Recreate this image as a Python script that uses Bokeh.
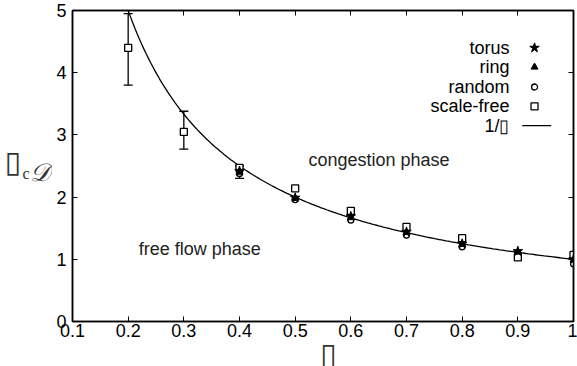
import numpy as np
from bokeh.plotting import figure
from bokeh.layouts import row, column
from bokeh.models import (LinearAxis, FixedTicker, CustomJSTickFormatter, Range1d,
                          Label, ColumnDataSource, Whisker, TeeHead)
from bokeh.embed import file_html
from bokeh.resources import INLINE

# ---- data ----
x_net = [0.4, 0.5, 0.6, 0.7, 0.8, 0.9, 1.0]
torus = [2.42, 1.99, 1.69, 1.44, 1.25, 1.13, 1.00]
ring = [2.40, 1.98, 1.67, 1.43, 1.24, 1.12, 0.99]
random_net = [2.38, 1.96, 1.63, 1.39, 1.20, 1.10, 0.93]
x_sf = [0.2, 0.3, 0.4, 0.5, 0.6, 0.7, 0.8, 0.9, 1.0]
scale_free = [4.40, 3.05, 2.47, 2.14, 1.78, 1.52, 1.34, 1.03, 1.07]
err_x = [0.2, 0.3, 0.4]
err_lo = [3.80, 2.77, 2.30]
err_hi = [4.95, 3.38, 2.50]
x_ticks = [0.1, 0.2, 0.3, 0.4, 0.5, 0.6, 0.7, 0.8, 0.9, 1.0]
y_ticks = [0, 1, 2, 3, 4, 5]
legend_names = ["torus", "ring", "random", "scale-free", "1/\u25af"]
x_title = "\u25af"
y_title_parts = ["\u25af", "c", "\U0001D49F"]

FONT = "Liberation Sans"
FS = "18px"
LEFT_W = 52
MAIN_H = 343


def blank_fig(w, h):
    f = figure(width=w, height=h, output_backend="svg", toolbar_location=None,
               x_range=Range1d(0, w), y_range=Range1d(0, h),
               min_border=0, min_border_left=0, min_border_right=0,
               min_border_top=0, min_border_bottom=0)
    f.axis.visible = False
    f.grid.visible = False
    f.outline_line_color = None
    return f


p = figure(width=577 - LEFT_W, height=MAIN_H, output_backend="svg", toolbar_location=None,
           x_range=Range1d(0.1, 1.0), y_range=Range1d(0, 5),
           min_border_left=72 - LEFT_W, min_border_right=4, min_border_top=10,
           min_border_bottom=MAIN_H - 321)
p.outline_line_color = "black"
p.outline_line_width = 1.5
p.xgrid.visible = False
p.ygrid.visible = False

fmt = CustomJSTickFormatter(code="return (Math.round(tick*10)/10).toString();")
for ax in (p.xaxis[0], p.yaxis[0]):
    ax.axis_line_width = 1.5
    ax.major_tick_in = 5
    ax.major_tick_out = 0
    ax.minor_tick_in = 0
    ax.minor_tick_out = 0
    ax.major_label_text_font = FONT
    ax.major_label_text_font_size = FS
    ax.major_label_text_color = "black"
    ax.formatter = fmt
p.xaxis[0].ticker = FixedTicker(ticks=x_ticks)
p.yaxis[0].ticker = FixedTicker(ticks=y_ticks)
p.xaxis[0].major_label_standoff = 2
p.yaxis[0].major_label_standoff = 6

for loc, ticks in (("above", x_ticks), ("right", y_ticks)):
    a = LinearAxis(ticker=FixedTicker(ticks=ticks), major_label_text_font_size="0px",
                   major_tick_in=5, major_tick_out=0, minor_tick_in=0, minor_tick_out=0,
                   axis_line_width=1.5, major_label_standoff=0)
    p.add_layout(a, loc)

# curve 1/x
xc = np.linspace(0.2, 1.0, 200)
p.line(xc, 1.0 / xc, line_color="black", line_width=1.3)

# error bars
src_err = ColumnDataSource(dict(x=err_x, lo=err_lo, hi=err_hi))
w = Whisker(source=src_err, base="x", lower="lo", upper="hi", line_color="black", line_width=1.3,
            upper_head=TeeHead(size=9, line_color="black", line_width=1.3),
            lower_head=TeeHead(size=9, line_color="black", line_width=1.3))
p.add_layout(w)

p.scatter(x_net, random_net, marker="circle", size=6, fill_color="white", line_color="black", line_width=1.3)
p.scatter(x_sf, scale_free, marker="square", size=7, fill_color="white", line_color="black", line_width=1.3)
p.scatter(x_net, ring, marker="triangle", size=7, fill_color="black", line_color="black")
p.scatter(x_net, torus, marker="star", size=10, fill_color="black", line_color="black")

# legend (manual, label left of glyph)
ly = [4.40, 4.09, 3.77, 3.46, 3.15]
lx_text = 0.885
lx_mark = 0.930
for name, yy in zip(legend_names, ly):
    p.add_layout(Label(x=lx_text, y=yy, text=name, text_align="right", text_baseline="middle",
                       text_font=FONT, text_font_size=FS, text_color="black"))
p.scatter([lx_mark], [ly[0]], marker="star", size=10, fill_color="black", line_color="black")
p.scatter([lx_mark], [ly[1]], marker="triangle", size=7, fill_color="black", line_color="black")
p.scatter([lx_mark], [ly[2]], marker="circle", size=6, fill_color="white", line_color="black", line_width=1.3)
p.scatter([lx_mark], [ly[3]], marker="square", size=7, fill_color="white", line_color="black", line_width=1.3)
p.line([0.908, 0.960], [ly[4], ly[4]], line_color="black", line_width=1.3)

# annotations
p.add_layout(Label(x=0.524, y=2.59, text="congestion phase", text_baseline="middle",
                   text_font=FONT, text_font_size=FS, text_color="#222222"))
p.add_layout(Label(x=0.219, y=1.17, text="free flow phase", text_baseline="middle",
                   text_font=FONT, text_font_size=FS, text_color="#222222"))

# y title panel (pixel coordinates inside a blank figure)
left = blank_fig(LEFT_W, 366)
left.add_layout(Label(x=4, y=366 - 161, text=y_title_parts[0], text_baseline="middle",
                      text_font="DejaVu Sans", text_font_size="30px", text_color="#333333"))
left.add_layout(Label(x=22, y=366 - 173, text=y_title_parts[1], text_baseline="alphabetic",
                      text_font="Liberation Serif", text_font_size="16px", text_color="#333333"))
left.add_layout(Label(x=29, y=366 - 172, text=y_title_parts[2], text_baseline="alphabetic",
                      text_font="DejaVu Serif", text_font_style="italic", text_font_size="25px",
                      text_color="#333333"))

# x title panel
bottom = blank_fig(577 - LEFT_W, 366 - MAIN_H)
bottom.add_layout(Label(x=320 - LEFT_W, y=13, text=x_title, text_align="center",
                        text_baseline="middle",
                        text_font="DejaVu Sans", text_font_size="30px", text_color="#333333"))

layout = row(left, column(p, bottom, spacing=0), spacing=0)

open("out.html", "w").write(file_html(layout, INLINE))
